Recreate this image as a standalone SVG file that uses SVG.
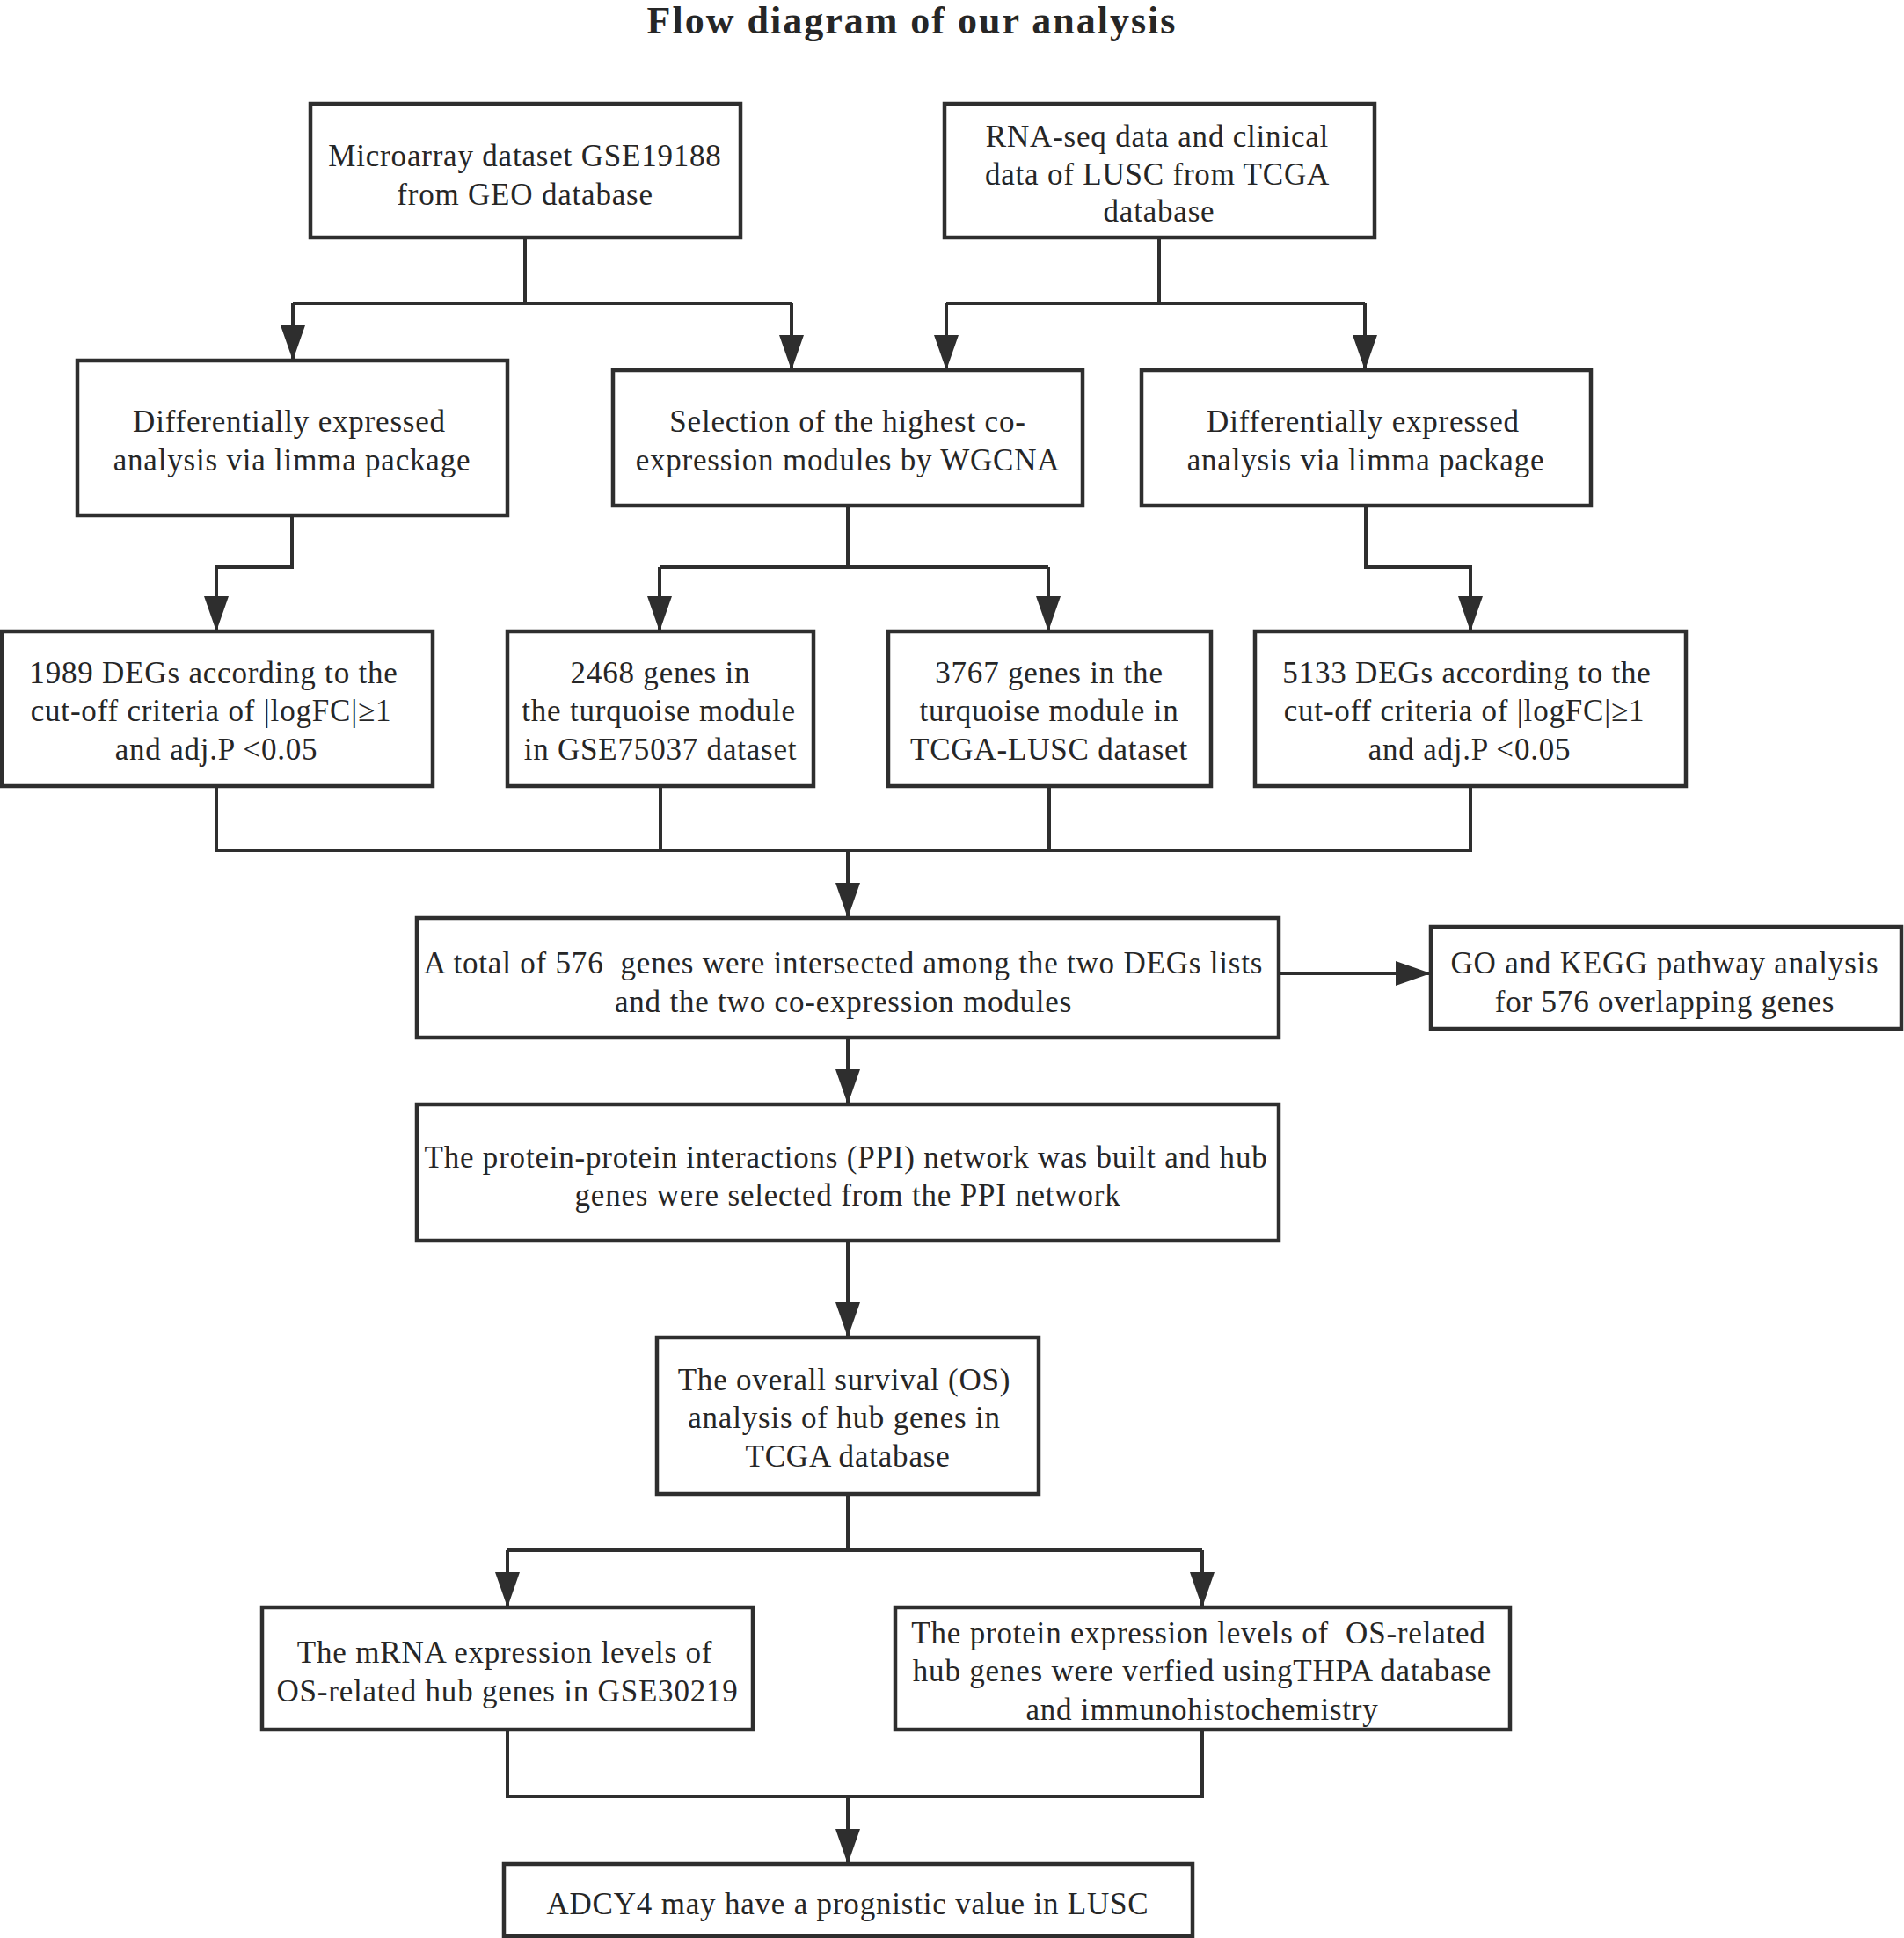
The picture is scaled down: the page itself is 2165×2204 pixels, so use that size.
<svg xmlns="http://www.w3.org/2000/svg" width="2165" height="2204" viewBox="0 0 2165 2204">
<defs>
<style>
.box{fill:#fff;stroke:#2e2e2e;stroke-width:4.5}
.ln{fill:none;stroke:#2e2e2e;stroke-width:4}
.t{font-family:"Liberation Serif","Times New Roman",serif;font-size:35px;letter-spacing:0.8px;fill:#262626;text-anchor:middle}
.title{font-family:"Liberation Serif","Times New Roman",serif;font-size:44px;font-weight:bold;letter-spacing:2px;fill:#262626;text-anchor:middle}
</style>
<marker id="ah" viewBox="0 0 40 28" refX="40" refY="14" markerWidth="40" markerHeight="28" markerUnits="userSpaceOnUse" orient="auto">
<path d="M0,0 L40,14 L0,28 z" fill="#2e2e2e"/>
</marker>
</defs>
<rect width="2165" height="2204" fill="#fff"/>
<text class="title" x="1037" y="38">Flow diagram of our analysis</text>

<g id="connectors">
<path class="ln" d="M597,270 V345 M333,345 H900 M1318,270 V345 M1076,345 H1552"/>
<path class="ln" d="M333,345 V410" marker-end="url(#ah)"/>
<path class="ln" d="M900,345 V421" marker-end="url(#ah)"/>
<path class="ln" d="M1076,345 V421" marker-end="url(#ah)"/>
<path class="ln" d="M1552,345 V421" marker-end="url(#ah)"/>
<path class="ln" d="M332,586 V645 H246 V718" marker-end="url(#ah)"/>
<path class="ln" d="M964,575 V645 M750,645 H1192"/>
<path class="ln" d="M750,645 V718" marker-end="url(#ah)"/>
<path class="ln" d="M1192,645 V718" marker-end="url(#ah)"/>
<path class="ln" d="M1553,575 V645 H1672 V718" marker-end="url(#ah)"/>
<path class="ln" d="M246,894 V967 H1672 V894 M751,894 V967 M1193,894 V967"/>
<path class="ln" d="M964,967 V1044" marker-end="url(#ah)"/>
<path class="ln" d="M1454,1107 H1627" marker-end="url(#ah)"/>
<path class="ln" d="M964,1180 V1256" marker-end="url(#ah)"/>
<path class="ln" d="M964,1411 V1521" marker-end="url(#ah)"/>
<path class="ln" d="M964,1699 V1763 M577,1763 H1367"/>
<path class="ln" d="M577,1763 V1828" marker-end="url(#ah)"/>
<path class="ln" d="M1367,1763 V1828" marker-end="url(#ah)"/>
<path class="ln" d="M577,1967 V2043 H1367 V1967"/>
<path class="ln" d="M964,2043 V2120" marker-end="url(#ah)"/>
</g>

<g id="n1"><rect class="box" x="353" y="118" width="489" height="152"/>
<text class="t" x="597" y="189">Microarray dataset GSE19188</text>
<text class="t" x="597" y="233">from GEO database</text></g>

<g id="n2"><rect class="box" x="1074" y="118" width="489" height="152"/>
<text class="t" x="1316" y="167">RNA-seq data and clinical</text>
<text class="t" x="1316" y="210">data of LUSC from TCGA</text>
<text class="t" x="1318" y="252">database</text></g>

<g id="n3"><rect class="box" x="88" y="410" width="489" height="176"/>
<text class="t" x="329" y="491">Differentially expressed</text>
<text class="t" x="332" y="535">analysis via limma package</text></g>

<g id="n4"><rect class="box" x="697" y="421" width="534" height="154"/>
<text class="t" x="964" y="491">Selection of the highest co-</text>
<text class="t" x="964" y="535">expression modules by WGCNA</text></g>

<g id="n5"><rect class="box" x="1298" y="421" width="511" height="154"/>
<text class="t" x="1550" y="491">Differentially expressed</text>
<text class="t" x="1553" y="535">analysis via limma package</text></g>

<g id="n6"><rect class="box" x="2" y="718" width="490" height="176"/>
<text class="t" x="243" y="777">1989 DEGs according to the</text>
<text class="t" x="240" y="820">cut-off criteria of |logFC|≥1</text>
<text class="t" x="246" y="864">and adj.P &lt;0.05</text></g>

<g id="n7"><rect class="box" x="577" y="718" width="348" height="176"/>
<text class="t" x="751" y="777">2468 genes in</text>
<text class="t" x="749" y="820">the turquoise module</text>
<text class="t" x="751" y="864">in GSE75037 dataset</text></g>

<g id="n8"><rect class="box" x="1010" y="718" width="367" height="176"/>
<text class="t" x="1193" y="777">3767 genes in the</text>
<text class="t" x="1193" y="820">turquoise module in</text>
<text class="t" x="1193" y="864">TCGA-LUSC dataset</text></g>

<g id="n9"><rect class="box" x="1427" y="718" width="490" height="176"/>
<text class="t" x="1668" y="777">5133 DEGs according to the</text>
<text class="t" x="1665" y="820">cut-off criteria of |logFC|≥1</text>
<text class="t" x="1671" y="864">and adj.P &lt;0.05</text></g>

<g id="n10"><rect class="box" x="474" y="1044" width="980" height="136"/>
<text class="t" x="959" y="1107">A total of 576&#160; genes were intersected among the two DEGs lists</text>
<text class="t" x="959" y="1151">and the two co-expression modules</text></g>

<g id="n11"><rect class="box" x="1627" y="1054" width="535" height="116"/>
<text class="t" x="1893" y="1107">GO and KEGG pathway analysis</text>
<text class="t" x="1893" y="1151">for 576 overlapping genes</text></g>

<g id="n12"><rect class="box" x="474" y="1256" width="980" height="155"/>
<text class="t" x="962" y="1328">The protein-protein interactions (PPI) network was built and hub</text>
<text class="t" x="964" y="1371">genes were selected from the PPI network</text></g>

<g id="n13"><rect class="box" x="747" y="1521" width="434" height="178"/>
<text class="t" x="960" y="1581">The overall survival (OS)</text>
<text class="t" x="960" y="1624">analysis of hub genes in</text>
<text class="t" x="964" y="1668">TCGA database</text></g>

<g id="n14"><rect class="box" x="298" y="1828" width="558" height="139"/>
<text class="t" x="574" y="1891">The mRNA expression levels of</text>
<text class="t" x="577" y="1935">OS-related hub genes in GSE30219</text></g>

<g id="n15"><rect class="box" x="1018" y="1828" width="699" height="139"/>
<text class="t" x="1363" y="1869">The protein expression levels of&#160; OS-related</text>
<text class="t" x="1367" y="1912">hub genes were verfied usingTHPA database</text>
<text class="t" x="1367" y="1956">and immunohistochemistry</text></g>

<g id="n16"><rect class="box" x="573" y="2120" width="783" height="82"/>
<text class="t" x="964" y="2177">ADCY4 may have a prognistic value in LUSC</text></g>
</svg>
